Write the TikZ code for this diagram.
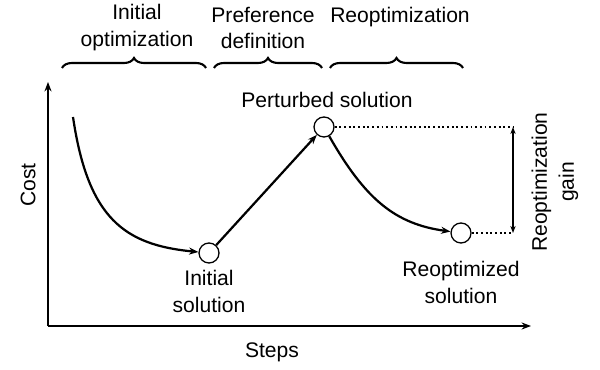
\documentclass[tikz,border=0pt]{standalone}
\usepackage{fontspec}
\setmainfont{Liberation Sans}
\usepackage{tikz}
\usetikzlibrary{decorations.pathreplacing,arrows.meta}

\begin{document}
\begin{tikzpicture}[x=0.03cm,y=0.03cm,>={Stealth[length=8pt,width=6pt]},
  lbl/.style={font=\fontsize{18}{23}\selectfont,align=center,inner sep=0pt},
  sol/.style={draw,circle,fill=white,minimum size=0.6cm,inner sep=0pt,line width=1.1pt},
  brc/.style={decorate,decoration={brace,amplitude=0.3cm},line width=1.8pt},
  arr/.style={line width=1.9pt,->}]
\useasboundingbox (0,0) rectangle (600,369);
% axes
\coordinate (orig) at (48,43);
\coordinate (ytop) at (48,287);
\coordinate (xend) at (531,43);
\draw [line width=1.7pt,->] (orig) -- (ytop);
\draw [line width=1.7pt,->] (orig) -- (xend);
\node [lbl,rotate=90] (cost) at (28,184) {Cost};
\node [lbl] (steps) at (272,17) {Steps};
% solutions
\coordinate (start) at (73,252);
\node [sol] (init) at (209,116) {};
\node [sol] (pert) at (324,242) {};
\node [sol] (reopt) at (461,136) {};
\node [lbl] (initlbl) at (209,78) {Initial\\solution};
\node [lbl] (pertlbl) at (327,269) {Perturbed solution};
\node [lbl] (reoptlbl) at (461,87) {Reoptimized\\solution};
\draw [arr] (start) .. controls (88,150) and (125,124) .. (init);
\draw [arr] (init) -- (pert);
\draw [arr] (pert) .. controls (365,170) and (395,145) .. (reopt);
% gain
\coordinate (gtop) at (513,242);
\coordinate (gbot) at (513,136);
\draw [line width=1.6pt,dash pattern=on 1.6pt off 2.4pt] (pert) -- (gtop);
\draw [line width=1.6pt,dash pattern=on 1.6pt off 2.4pt] (reopt) -- (gbot);
\draw [line width=1.6pt,{Stealth[length=6pt,width=4.5pt]}-{Stealth[length=6pt,width=4.5pt]}] (gtop) -- (gbot);
\node [lbl,rotate=90] (gain) at (555,187) {Reoptimization\\gain};
% phases
\draw [brc] (62,301) -- (206,301);
\draw [brc] (214,301) -- (322,301);
\draw [brc] (330,301) -- (463,301);
\node [lbl] (phase1) at (137,341) {Initial\\optimization};
\node [lbl] (phase2) at (263,341) {Preference\\definition};
\node [lbl] (phase3) at (400,352) {Reoptimization};
\end{tikzpicture}
\end{document}
